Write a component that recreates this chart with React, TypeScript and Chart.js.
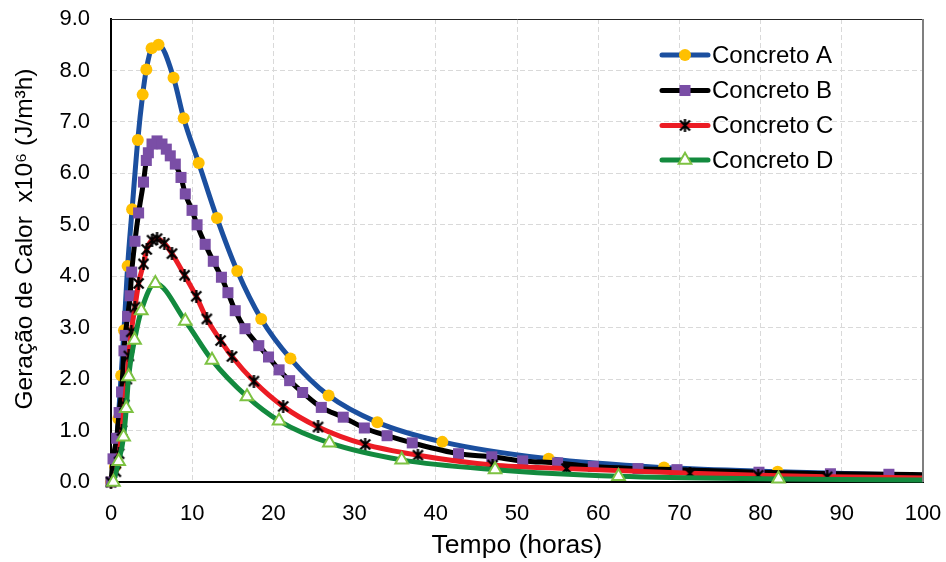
import React, { useEffect, useRef } from 'react';
import { Chart, registerables } from 'chart.js';

Chart.register(...registerables);

// ---- Data ----
const seriesNames = ['Concreto A', 'Concreto B', 'Concreto C', 'Concreto D'];

const timeA = [0, 0.5, 0.9, 1.25, 1.6, 2.05, 2.6, 3.3, 3.9, 4.35, 5.0, 5.85, 7.7, 8.95, 10.8, 13.05, 15.55, 18.5, 22.1, 26.8, 32.8, 40.8, 53.9, 68.1, 82.1, 100];
const heatA = [0, 0.3, 1.23, 2.07, 2.95, 4.2, 5.3, 6.65, 7.53, 8.02, 8.43, 8.5, 7.86, 7.07, 6.2, 5.13, 4.1, 3.17, 2.4, 1.68, 1.16, 0.78, 0.45, 0.28, 0.2, 0.13];

const timeB = [0, 0.25, 0.7, 1.0, 1.3, 1.6, 1.75, 2.05, 2.35, 2.55, 2.95, 3.4, 4.0, 4.35, 4.6, 5.05, 5.67, 6.28, 6.81, 7.3, 7.92, 8.62, 9.15, 9.98, 10.6, 11.6, 12.6, 13.6, 14.4, 15.3, 16.5, 18.2, 19.4, 20.7, 22.0, 23.6, 25.9, 28.6, 31.2, 34.0, 37.1, 42.8, 46.9, 50.7, 55.0, 59.4, 64.9, 69.7, 79.8, 88.6, 95.8, 100];
const heatB = [0, 0.45, 0.85, 1.35, 1.75, 2.55, 2.85, 3.22, 3.62, 4.08, 4.68, 5.23, 5.83, 6.25, 6.4, 6.57, 6.63, 6.57, 6.47, 6.34, 6.18, 5.92, 5.6, 5.28, 5.0, 4.62, 4.29, 3.98, 3.68, 3.33, 2.98, 2.65, 2.43, 2.18, 1.97, 1.74, 1.45, 1.26, 1.05, 0.9, 0.76, 0.55, 0.49, 0.41, 0.37, 0.3, 0.26, 0.24, 0.19, 0.16, 0.15, 0.14];

const timeC = [0, 0.6, 1.0, 1.35, 1.65, 1.95, 2.2, 2.5, 2.95, 3.4, 4.0, 4.4, 5.05, 5.67, 6.56, 7.51, 9.06, 10.5, 11.8, 13.5, 14.9, 17.6, 21.2, 25.5, 31.3, 37.8, 47.0, 56.1, 71.3, 79.7, 88.2, 100];
const heatC = [0, 0.2, 0.55, 1.0, 1.5, 2.0, 2.45, 2.92, 3.4, 3.86, 4.24, 4.52, 4.7, 4.73, 4.64, 4.44, 4.02, 3.61, 3.17, 2.75, 2.44, 1.96, 1.47, 1.07, 0.73, 0.52, 0.33, 0.26, 0.17, 0.13, 0.1, 0.08];

const timeD = [0.3, 0.94, 1.55, 1.88, 2.17, 2.9, 3.73, 5.46, 9.15, 12.44, 16.75, 20.7, 26.9, 35.8, 47.3, 62.5, 82.2, 100];
const heatD = [0, 0.4, 0.88, 1.43, 2.05, 2.76, 3.33, 3.86, 3.13, 2.37, 1.66, 1.19, 0.76, 0.43, 0.24, 0.11, 0.06, 0.04];

const xMin = 0, xMax = 100, xStep = 10;
const yMin = 0, yMax = 9, yStep = 1;

const xTitle = 'Tempo (horas)';
const yTitle = 'Geração de Calor  x10\u2076 (J/m\u00B3h)';

const FONT = "'Liberation Sans', Arial, sans-serif";

function pts(t: number[], v: number[]) {
  return t.map((x, i) => ({ x, y: v[i] }));
}

function makeStar(): HTMLCanvasElement {
  const s = 13;
  const c = document.createElement('canvas');
  c.width = s;
  c.height = s;
  const g = c.getContext('2d')!;
  g.strokeStyle = '#000';
  g.lineWidth = 2.3;
  g.beginPath();
  g.moveTo(1.5, 1.5); g.lineTo(s - 1.5, s - 1.5);
  g.moveTo(s - 1.5, 1.5); g.lineTo(1.5, s - 1.5);
  g.moveTo(s / 2, 0); g.lineTo(s / 2, s);
  g.stroke();
  return c;
}

const zeroPad = (s: any) => {
  s.paddingTop = 0;
  s.paddingBottom = 0;
  s.paddingLeft = 0;
  s.paddingRight = 0;
};

export default function App() {
  const ref = useRef<HTMLCanvasElement | null>(null);

  useEffect(() => {
    document.body.style.margin = '0';
    const star = makeStar();
    const lastNoMarker = (n: number, r: number) => (ctx: any) => (ctx.dataIndex === n - 1 ? 0 : r);

    const styles = [
      { line: '#1B4F9F', pointStyle: 'circle', bg: '#FFC000', border: '#FFC000', radius: 6, bw: 0 },
      { line: '#000000', pointStyle: 'rect', bg: '#7A4EA6', border: '#7A4EA6', radius: 7.8, bw: 0 },
      { line: '#EC1C24', pointStyle: star, bg: '#000', border: '#000', radius: 6.5, bw: 0 },
      { line: '#138A3E', pointStyle: 'triangle', bg: '#FFFFFF', border: '#7DC242', radius: 7.3, bw: 2 },
    ];
    const datasets = [
      pts(timeA, heatA), pts(timeB, heatB), pts(timeC, heatC), pts(timeD, heatD),
    ].map((data, i) => ({
      label: seriesNames[i],
      data,
      borderColor: styles[i].line,
      borderWidth: 5,
      backgroundColor: styles[i].bg,
      pointBackgroundColor: styles[i].bg,
      pointBorderColor: styles[i].border,
      pointBorderWidth: styles[i].bw,
      pointStyle: styles[i].pointStyle as any,
      pointRadius: lastNoMarker(data.length, styles[i].radius),
      cubicInterpolationMode: 'monotone' as const,
      order: 4 - i,
      clip: false as any,
      fill: false,
    }));

    const decor = {
      id: 'decor',
      afterDraw(chart: any) {
        const { ctx, chartArea } = chart;
        const { left, right, top, bottom } = chartArea;
        ctx.save();
        // top border
        ctx.strokeStyle = '#262626';
        ctx.lineWidth = 1;
        ctx.beginPath();
        ctx.moveTo(left, top + 0.5);
        ctx.lineTo(right + 1, top + 0.5);
        ctx.stroke();
        // right border
        ctx.strokeStyle = '#7F7F7F';
        ctx.lineWidth = 2;
        ctx.beginPath();
        ctx.moveTo(right, top);
        ctx.lineTo(right, bottom);
        ctx.stroke();

        // y title
        ctx.save();
        ctx.translate(25, 239);
        ctx.rotate(-Math.PI / 2);
        ctx.font = `24.5px ${FONT}`;
        ctx.fillStyle = '#000';
        ctx.textAlign = 'center';
        ctx.textBaseline = 'middle';
        ctx.fillText(yTitle, 0, 0);
        ctx.restore();

        // legend
        const x0 = 662, x1 = 708, tx = 712;
        const rows = [55, 90.5, 125.5, 160];
        chart.data.datasets.forEach((ds: any, i: number) => {
          const y = rows[i];
          const st = styles[i];
          ctx.strokeStyle = ds.borderColor;
          ctx.lineWidth = 5;
          ctx.lineCap = 'round';
          ctx.beginPath();
          ctx.moveTo(x0, y);
          ctx.lineTo(x1, y);
          ctx.stroke();
          ctx.lineCap = 'butt';
          const cx = (x0 + x1) / 2;
          if (st.pointStyle === 'circle') {
            ctx.fillStyle = st.bg;
            ctx.beginPath();
            ctx.arc(cx, y, st.radius, 0, Math.PI * 2);
            ctx.fill();
          } else if (st.pointStyle === 'rect') {
            const h = st.radius * Math.SQRT1_2;
            ctx.fillStyle = st.bg;
            ctx.fillRect(cx - h, y - h, 2 * h, 2 * h);
          } else if (st.pointStyle === 'triangle') {
            const r = st.radius;
            ctx.fillStyle = st.bg;
            ctx.strokeStyle = st.border;
            ctx.lineWidth = 2;
            ctx.beginPath();
            for (let k = 0; k < 3; k++) {
              const a = (k * 2 * Math.PI) / 3;
              const px = cx + Math.sin(a) * r;
              const py = y - Math.cos(a) * r;
              if (k === 0) ctx.moveTo(px, py); else ctx.lineTo(px, py);
            }
            ctx.closePath();
            ctx.fill();
            ctx.stroke();
          } else {
            ctx.drawImage(star, cx - star.width / 2, y - star.height / 2);
          }
          ctx.fillStyle = '#000';
          ctx.font = `24px ${FONT}`;
          ctx.textAlign = 'left';
          ctx.textBaseline = 'middle';
          ctx.fillText(ds.label, tx, y + 1);
        });
        ctx.restore();
      },
    };

    const tickFont = { family: FONT, size: 22 };
    const chart = new Chart(ref.current!, {
      type: 'line',
      data: { datasets: datasets as any },
      options: {
        animation: false,
        responsive: false,
        layout: { padding: { top: 19, right: 23, left: 0, bottom: 0 } },
        plugins: { legend: { display: false }, tooltip: { enabled: false }, title: { display: false } },
        scales: {
          x: {
            type: 'linear',
            min: xMin,
            max: xMax,
            ticks: { stepSize: xStep, font: tickFont, color: '#000', padding: 19, maxRotation: 0, autoSkip: false },
            grid: { color: '#D9D9D9', lineWidth: 1, drawTicks: false },
            border: { display: true, color: '#000', width: 2, dash: [5, 3] },
            title: { display: true, text: xTitle, font: { family: FONT, size: 26.5 }, color: '#000', padding: { top: 0, bottom: 0 } },
            afterFit: (s: any) => { s.height = 80; zeroPad(s); },
          },
          y: {
            type: 'linear',
            min: yMin,
            max: yMax,
            ticks: {
              stepSize: yStep,
              font: tickFont,
              color: '#000',
              padding: 21,
              callback: (v: any) => Number(v).toFixed(1),
            },
            grid: { color: '#D9D9D9', lineWidth: 1, drawTicks: false },
            border: { display: true, color: '#000', width: 2, dash: [5, 3] },
            afterFit: (s: any) => { s.width = 111; zeroPad(s); },
          },
        },
      },
      plugins: [decor],
    });
    return () => chart.destroy();
  }, []);

  return (
    <div style={{ position: 'absolute', left: 0, top: 0, width: 946, height: 562, background: '#fff' }}>
      <canvas ref={ref} width={946} height={562} style={{ display: 'block' }} />
    </div>
  );
}
